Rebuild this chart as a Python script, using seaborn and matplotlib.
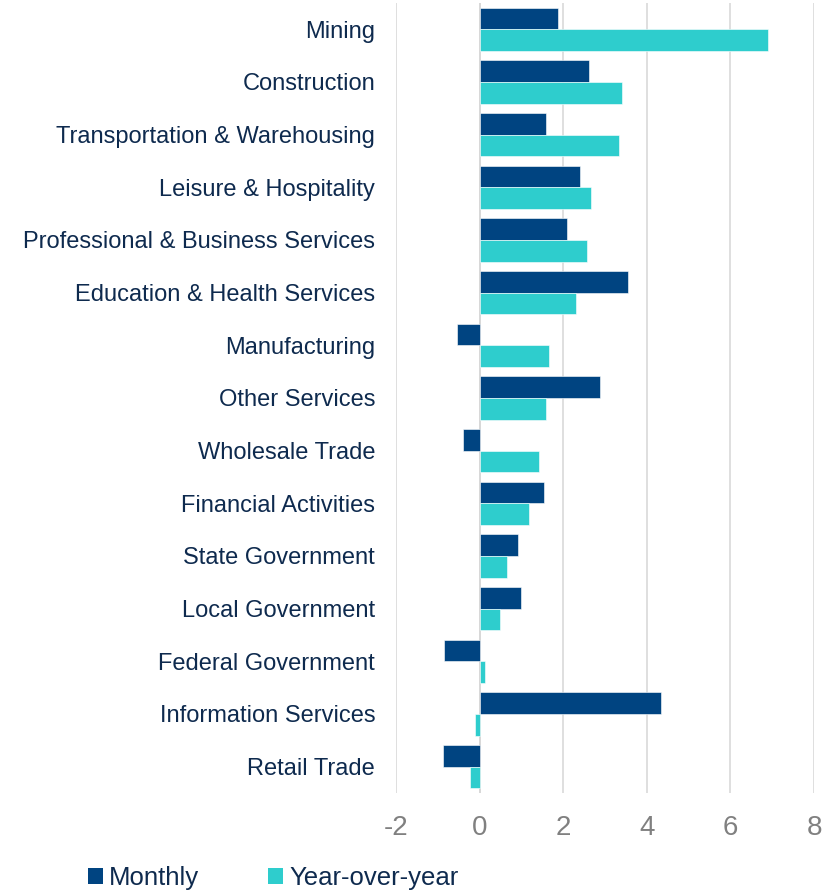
import pandas as pd
import seaborn as sns
import matplotlib.pyplot as plt
from matplotlib.patches import Patch

# Job growth by industry, monthly vs year-over-year (%)
industries = ['Mining', 'Construction', 'Transportation & Warehousing', 'Leisure & Hospitality',
              'Professional & Business Services', 'Education & Health Services', 'Manufacturing',
              'Other Services', 'Wholesale Trade', 'Financial Activities', 'State Government',
              'Local Government', 'Federal Government', 'Information Services', 'Retail Trade']
monthly = [1.88, 2.61, 1.60, 2.40, 2.10, 3.55, -0.55, 2.88, -0.40, 1.54, 0.93, 1.00, -0.84, 4.34, -0.87]
yoy = [6.89, 3.40, 3.33, 2.67, 2.56, 2.31, 1.66, 1.58, 1.41, 1.18, 0.66, 0.49, 0.14, -0.10, -0.22]
series = ['Monthly', 'Year-over-year']
colors = ['#004481', '#2ECDCD']
x_ticks = [-2, 0, 2, 4, 6, 8]

df = pd.DataFrame({'Industry': industries * 2,
                   'Series': [series[0]] * len(industries) + [series[1]] * len(industries),
                   'Value': monthly + yoy})

sns.set_style('white')
plt.rcParams['font.family'] = ['Liberation Sans', 'DejaVu Sans']

fig = plt.figure(figsize=(8.35, 8.92), dpi=100)
ax = fig.add_axes([396 / 835, 1 - 793 / 892, (814 - 396) / 835, 790 / 892])

sns.barplot(data=df, x='Value', y='Industry', hue='Series', order=industries,
            hue_order=series, palette=colors, orient='h', width=0.82,
            saturation=1, legend=False, ax=ax, edgecolor='white', linewidth=0.4)

ax.set_xlim(-2, 8)
ax.set_ylim(len(industries) - 0.5, -0.5)
ax.set_xticks(x_ticks)
ax.set_xticklabels([str(t) for t in x_ticks])
ax.grid(axis='x', color='#d9d9d9', linewidth=1.2)
ax.set_axisbelow(True)
ax.axvline(0, color='#d0d0d0', linewidth=1.2, zorder=0.5)
for s in ax.spines.values():
    s.set_visible(False)
ax.set_xlabel('')
ax.set_ylabel('')
ax.tick_params(axis='x', length=0, pad=16, labelsize=20, labelcolor='#808080')
ax.tick_params(axis='y', length=0, pad=15, labelsize=17, labelcolor='#0E2A4E')

handles = [Patch(facecolor=c, edgecolor='none') for c in colors]
fig.legend(handles, series, loc='lower left', bbox_to_anchor=(73 / 835, -0.015),
           ncol=2, frameon=False, fontsize=18.5, handlelength=0.55, handleheight=0.55,
           handletextpad=0.25, columnspacing=2.7, borderpad=0.1, labelcolor='#0E2A4E')

fig.savefig('out.png', dpi=100)
